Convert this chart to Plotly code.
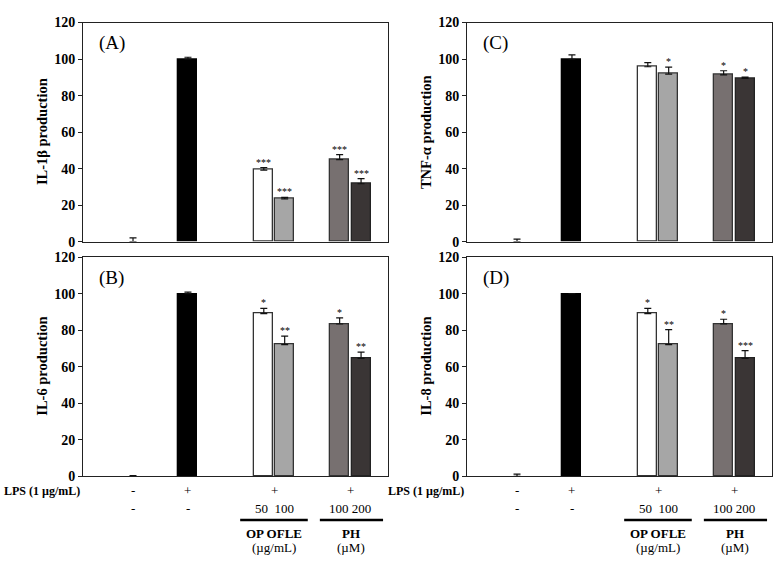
import plotly.graph_objects as go

# ---------------- data ----------------
groups = ["Control", "LPS", "OP OFLE 50", "OP OFLE 100", "PH 100", "PH 200"]
il1b_vals = [0.0, 100.0, 39.2, 23.4, 44.9, 31.7]
il1b_err = [2.1, 1.0, 1.4, 0.8, 2.8, 2.8]
il1b_sig = ["", "", "***", "***", "***", "***"]

tnfa_vals = [0.0, 99.9, 95.8, 91.8, 91.4, 89.4]
tnfa_err = [1.4, 2.4, 2.3, 3.8, 2.2, 0.7]
tnfa_sig = ["", "", "", "*", "*", "*"]

il6_vals = [0.0, 100.0, 89.1, 72.1, 83.4, 64.6]
il6_err = [0.3, 0.9, 2.9, 4.7, 3.4, 3.4]
il6_sig = ["", "", "*", "**", "*", "**"]

il8_vals = [0.0, 100.0, 89.1, 72.1, 83.5, 64.6]
il8_err = [1.2, 0.0, 2.9, 8.2, 2.5, 4.2]
il8_sig = ["", "", "*", "**", "*", "***"]

# condition rows, one entry per column group (control, LPS, OP OFLE, PH)
lps_row = ["-", "+", "+", "+"]
dose_row = ["-", "-", "50  100", "100 200"]
treat_names = ["OP OFLE", "PH"]
treat_units = ["(µg/mL)", "(µM)"]
y_ticks = [0, 20, 40, 60, 80, 100, 120]

# ---------------- layout / style ----------------
W, H = 782, 567
pos = [1.0, 2.0, 3.38, 3.76, 4.76, 5.15]
col_groups = [[0], [1], [2, 3], [4, 5]]
bar_w = 0.345
xr = [0.09, 5.64]
fill = ["rgba(0,0,0,0)", "#000000", "#ffffff", "#a6a6a6", "#777070", "#3a3535"]
edge = ["rgba(0,0,0,0)", "#000000", "#333333", "#333333", "#333333", "#222222"]
serif = "Liberation Serif, Times New Roman, serif"

def px_x(p):
    return p / W

def px_y(p):
    return 1 - p / H

panels = [
    (il1b_vals, il1b_err, il1b_sig, "IL-1β production", "(A)", (83, 388), (16, 241)),
    (tnfa_vals, tnfa_err, tnfa_sig, "TNF-α production", "(C)", (467, 772), (16, 241)),
    (il6_vals, il6_err, il6_sig, "IL-6 production", "(B)", (83, 388), (257, 482)),
    (il8_vals, il8_err, il8_sig, "IL-8 production", "(D)", (467, 772), (257, 482)),
]

fig = go.Figure()
annotations = []
shapes = []
layout_axes = {}

for i, (vals, err, sig, title, label, xd, yd) in enumerate(panels):
    n = "" if i == 0 else str(i + 1)
    xa, ya = "x" + n, "y" + n
    fig.add_trace(go.Bar(
        x=pos, y=vals, width=bar_w, xaxis=xa, yaxis=ya,
        marker=dict(color=fill, line=dict(color=edge, width=1.3)),
        error_y=dict(type="data", array=err, arrayminus=[0] * len(err),
                     symmetric=False, color="#111111", thickness=1.2, width=3.5),
        showlegend=False, hoverinfo="skip",
    ))
    layout_axes["xaxis" + n] = dict(
        domain=[px_x(xd[0]), px_x(xd[1])], range=xr, anchor=ya,
        showticklabels=False, ticks="", showgrid=False, zeroline=False,
        showline=True, linecolor="#222222", linewidth=1, mirror=True,
    )
    layout_axes["yaxis" + n] = dict(
        domain=[px_y(yd[1]), px_y(yd[0])], range=[0, 120], anchor=xa,
        tickvals=y_ticks, ticks="outside", ticklen=4, tickcolor="#222222",
        showgrid=False, zeroline=False, showline=True, linecolor="#222222",
        linewidth=1, mirror=True,
        tickfont=dict(family=serif, size=14, color="#000000", weight="bold"),
    )
    annotations.append(dict(
        x=px_x(xd[0] - 41), y=px_y((yd[0] + yd[1]) / 2), xref="paper", yref="paper",
        text="<b>" + title + "</b>", textangle=-90, showarrow=False,
        font=dict(family=serif, size=14.5, color="#000000"),
        xanchor="center", yanchor="middle",
    ))
    annotations.append(dict(
        x=px_x(xd[0] + 14), y=px_y(yd[0] + 21), xref="paper", yref="paper",
        text=label, showarrow=False, xanchor="left", yanchor="middle",
        font=dict(family=serif, size=19, color="#000000"),
    ))
    for p, v, e, s in zip(pos, vals, err, sig):
        if s:
            annotations.append(dict(
                x=p, y=v + e, xref=xa, yref=ya, text=s, showarrow=False,
                yanchor="bottom", yshift=-2,
                font=dict(family=serif, size=10, color="#000000"),
            ))

for i, xd in [(2, (83, 388)), (3, (467, 772))]:
    xa = "x" + str(i + 1)
    annotations.append(dict(
        x=px_x(xd[0] - 81), y=px_y(497), xref="paper", yref="paper",
        text="<b>LPS (1 µg/mL)</b>", showarrow=False, xanchor="left", yanchor="middle",
        font=dict(family=serif, size=12, color="#000000"),
    ))
    for cg, lp, ds in zip(col_groups, lps_row, dose_row):
        cx = sum(pos[k] for k in cg) / len(cg)
        annotations.append(dict(
            x=cx, y=px_y(497), xref=xa, yref="paper", text=lp, showarrow=False,
            yanchor="middle", font=dict(family=serif, size=13, color="#000000"),
        ))
        annotations.append(dict(
            x=cx, y=px_y(515), xref=xa, yref="paper", text=ds, showarrow=False,
            yanchor="middle", font=dict(family=serif, size=13, color="#000000"),
        ))
    for g, (a, b) in enumerate([(2.95, 4.18), (4.4, 5.55)]):
        shapes.append(dict(type="line", xref=xa, yref="paper", x0=a, x1=b,
                           y0=px_y(527), y1=px_y(527),
                           line=dict(color="#000000", width=2.5)))
        cx = (a + b) / 2
        annotations.append(dict(
            x=cx, y=px_y(541), xref=xa, yref="paper", text="<b>" + treat_names[g] + "</b>",
            showarrow=False, yanchor="middle",
            font=dict(family=serif, size=13, color="#000000"),
        ))
        annotations.append(dict(
            x=cx, y=px_y(555), xref=xa, yref="paper", text=treat_units[g],
            showarrow=False, yanchor="middle",
            font=dict(family=serif, size=13, color="#000000"),
        ))

fig.update_layout(
    width=W, height=H, margin=dict(l=0, r=0, t=0, b=0),
    paper_bgcolor="white", plot_bgcolor="white",
    annotations=annotations, shapes=shapes, bargap=0,
    **layout_axes,
)
fig.write_html("out.html", config={"displayModeBar": False},
               post_script="document.body.style.margin='0';document.body.style.overflow='hidden';")
